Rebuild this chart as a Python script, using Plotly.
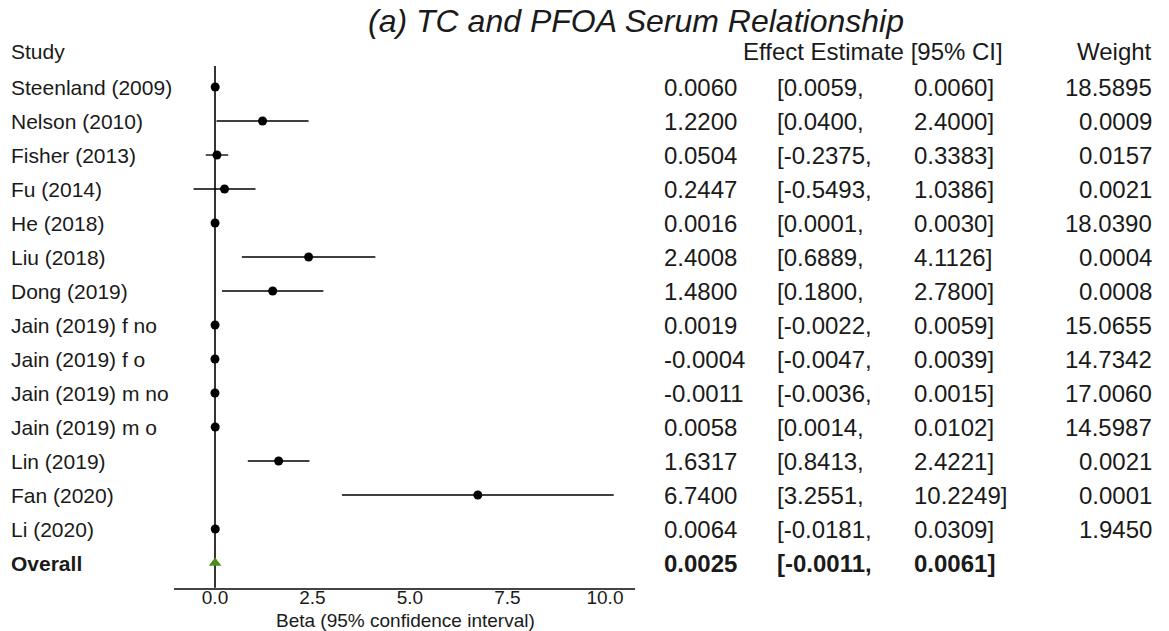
import plotly.graph_objects as go

# Study-level estimates (beta) with 95% confidence intervals and weights
studies = ["Steenland (2009)", "Nelson (2010)", "Fisher (2013)", "Fu (2014)", "He (2018)",
           "Liu (2018)", "Dong (2019)", "Jain (2019) f no", "Jain (2019) f o",
           "Jain (2019) m no", "Jain (2019) m o", "Lin (2019)", "Fan (2020)", "Li (2020)"]
estimates = [0.0060, 1.2200, 0.0504, 0.2447, 0.0016, 2.4008, 1.4800, 0.0019, -0.0004,
             -0.0011, 0.0058, 1.6317, 6.7400, 0.0064]
ci_lower = [0.0059, 0.0400, -0.2375, -0.5493, 0.0001, 0.6889, 0.1800, -0.0022, -0.0047,
            -0.0036, 0.0014, 0.8413, 3.2551, -0.0181]
ci_upper = [0.0060, 2.4000, 0.3383, 1.0386, 0.0030, 4.1126, 2.7800, 0.0059, 0.0039,
            0.0015, 0.0102, 2.4221, 10.2249, 0.0309]
weights = [18.5895, 0.0009, 0.0157, 0.0021, 18.0390, 0.0004, 0.0008, 15.0655, 14.7342,
           17.0060, 14.5987, 0.0021, 0.0001, 1.9450]

overall_label = "Overall"
overall_est = 0.0025
overall_lower = -0.0011
overall_upper = 0.0061

x_ticks = [0, 2.5, 5, 7.5, 10]
x_tick_labels = ["0.0", "2.5", "5.0", "7.5", "10.0"]

W, H = 1169, 631
FONT = "Liberation Sans, Arial, sans-serif"
TXT = "#1a1a1a"
FS_LEFT = 21
FS_RIGHT = 24

rows = list(range(len(studies)))
overall_row = len(studies)

fig = go.Figure()

# individual studies
fig.add_trace(go.Scatter(
    x=estimates, y=rows, mode="markers",
    marker=dict(symbol="circle", size=9, color="black"),
    error_x=dict(type="data", symmetric=False,
                 array=[h - e for h, e in zip(ci_upper, estimates)],
                 arrayminus=[e - l for e, l in zip(estimates, ci_lower)],
                 thickness=1.3, width=0, color="black"),
    showlegend=False, hoverinfo="skip",
))

# pooled estimate
fig.add_trace(go.Scatter(
    x=[overall_est], y=[overall_row], mode="markers",
    marker=dict(symbol="triangle-up", size=11, color="#4a8f1c"),
    error_x=dict(type="data", symmetric=False,
                 array=[overall_upper - overall_est],
                 arrayminus=[overall_est - overall_lower],
                 thickness=1.3, width=0, color="black"),
    showlegend=False, hoverinfo="skip",
))

# reference line at zero
fig.add_shape(type="line", xref="x", yref="y", x0=0, x1=0, y0=-0.62, y1=14.73,
              line=dict(color="#333333", width=2), layer="below")

ann = []


def txt(x, y, s, anchor="left", bold=False, size=FS_RIGHT):
    ann.append(dict(x=x / W, y=y, xref="paper", yref="y", text=f"<b>{s}</b>" if bold else s,
                    showarrow=False, xanchor=anchor, yanchor="middle",
                    font=dict(family=FONT, size=size, color=TXT)))


# column headers
txt(9, -1.03, "Study", size=FS_LEFT)
txt(741, -1.03, "Effect Estimate [95% CI]")
txt(1154, -1.03, "Weight", anchor="right")

for i, name in enumerate(studies):
    txt(9, i, name, size=FS_LEFT)
    txt(662, i, f"{estimates[i]:.4f}")
    txt(775, i, f"[{ci_lower[i]:.4f},")
    txt(912, i, f"{ci_upper[i]:.4f}]")
    txt(1154, i, f"{weights[i]:.4f}", anchor="right")

txt(9, overall_row, overall_label, bold=True, size=FS_LEFT)
txt(662, overall_row, f"{overall_est:.4f}", bold=True)
txt(775, overall_row, f"[{overall_lower:.4f},", bold=True)
txt(912, overall_row, f"{overall_upper:.4f}]", bold=True)

# axis title
ann.append(dict(x=405 / W, y=(631 - 620) / 631, xref="paper", yref="paper",
                text="Beta (95% confidence interval)", showarrow=False,
                xanchor="center", yanchor="middle",
                font=dict(family=FONT, size=19, color=TXT)))

fig.update_layout(
    width=W, height=H,
    margin=dict(l=0, r=0, t=0, b=0),
    paper_bgcolor="white", plot_bgcolor="white",
    title=dict(text="<i>(a) TC and PFOA Serum Relationship</i>", x=636 / W, xanchor="center",
               y=1 - 21 / H, yanchor="middle",
               font=dict(family=FONT, size=32, color=TXT)),
    annotations=ann,
    xaxis=dict(domain=[174 / W, 635 / W], range=[-1.051, 10.77],
               tickvals=x_ticks, ticktext=x_tick_labels, ticks="",
               ticklabelstandoff=-9,
               showgrid=False, zeroline=False, showline=True,
               linecolor="#444444", linewidth=1.5,
               tickfont=dict(family=FONT, size=19, color=TXT)),
    yaxis=dict(domain=[43 / H, 1], range=[14.735, -2.559],
               showgrid=False, zeroline=False, showticklabels=False, showline=False),
)

fig.write_html("out.html")
